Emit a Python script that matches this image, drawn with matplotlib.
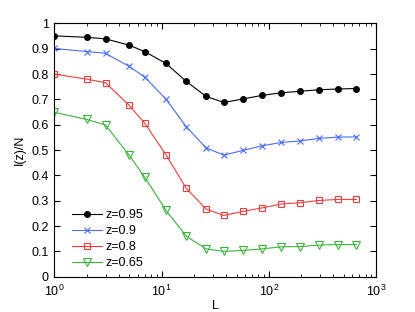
import matplotlib.pyplot as plt
import numpy as np

plt.rcParams['font.family'] = ['Liberation Sans', 'DejaVu Sans']

L = [1, 2, 3, 5, 7, 11, 17, 26, 38, 58, 87, 130, 195, 292, 438, 657]

z95 = [0.951, 0.945, 0.939, 0.914, 0.888, 0.842, 0.771, 0.712,
       0.688, 0.702, 0.716, 0.726, 0.732, 0.738, 0.741, 0.743]
z90 = [0.901, 0.889, 0.882, 0.830, 0.787, 0.701, 0.592, 0.509,
       0.480, 0.499, 0.517, 0.530, 0.536, 0.546, 0.551, 0.552]
z80 = [0.800, 0.780, 0.766, 0.676, 0.605, 0.481, 0.349, 0.267,
       0.242, 0.258, 0.272, 0.287, 0.292, 0.301, 0.305, 0.305]
z65 = [0.649, 0.621, 0.599, 0.479, 0.392, 0.262, 0.160, 0.110,
       0.100, 0.104, 0.110, 0.118, 0.119, 0.125, 0.127, 0.127]

fig = plt.figure(figsize=(4.15, 3.12), dpi=100)
ax = fig.add_axes([0.131, 0.113, 0.775, 0.812])

ax.plot(L, z95, '-o', color='black', lw=0.8, ms=4, label='z=0.95')
ax.plot(L, z90, '-x', color='#4a6cff', lw=0.8, ms=4.5, mew=0.8, label='z=0.9')
ax.plot(L, z80, '-s', color='#ff3a3a', lw=0.8, ms=4, mfc='none', mew=0.8, label='z=0.8')
ax.plot(L, z65, '-v', color='#3cb43c', lw=0.8, ms=6, mfc='none', mew=0.8, label='z=0.65')

ax.set_xscale('log')
ax.set_xlim(1, 1000)
ax.set_ylim(0, 1)
ax.set_yticks(np.arange(0, 1.01, 0.1))
ax.set_yticklabels(['0', '0.1', '0.2', '0.3', '0.4', '0.5', '0.6', '0.7', '0.8', '0.9', '1'])
ax.tick_params(which='both', direction='in', top=True, right=True, labelsize=9)
ax.tick_params(which='major', length=4)
ax.tick_params(which='minor', length=2)
ax.tick_params(axis='x', pad=5)
ax.tick_params(axis='y', pad=4)
for s in ax.spines.values():
    s.set_linewidth(0.8)

ax.set_xlabel('L', fontsize=9, labelpad=1)
ax.set_ylabel('I(z)/N', fontsize=9, labelpad=4)

ax.legend(loc='lower left', frameon=False, fontsize=9, handlelength=2.4,
          labelspacing=0.32, borderaxespad=0.3, borderpad=0.3,
          handletextpad=0.35, bbox_to_anchor=(0.03, 0.0))

fig.savefig('out.png', dpi=100)
